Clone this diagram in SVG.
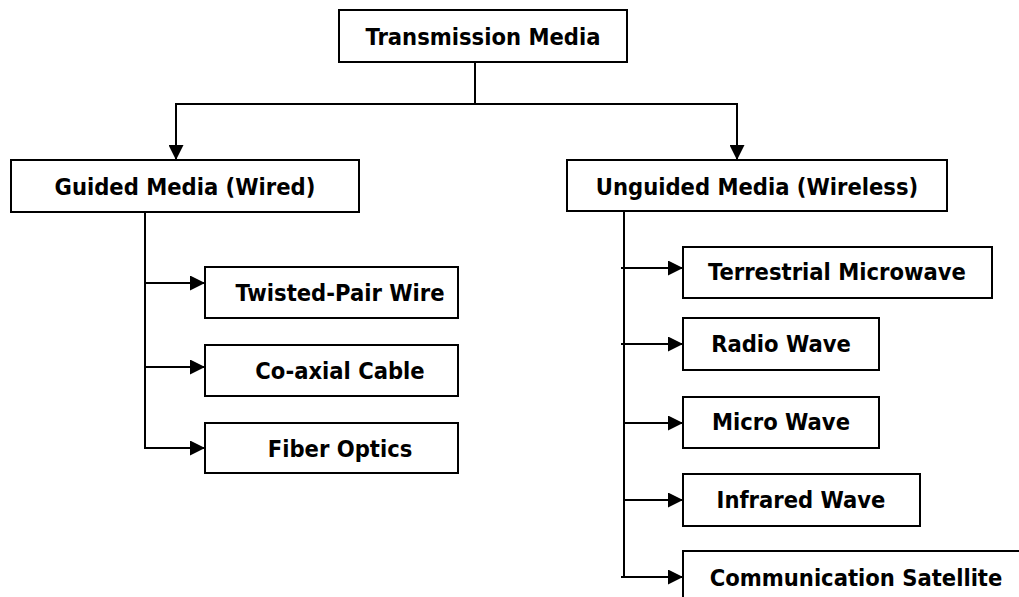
<svg xmlns="http://www.w3.org/2000/svg" width="1019" height="597" viewBox="0 0 1019 597">
  <style>
    .box { fill: #ffffff; stroke: #000000; stroke-width: 2; }
    .lbl { font-family: "DejaVu Sans Condensed", "DejaVu Sans", sans-serif; font-weight: bold; font-size: 23.5px; fill: #000000; text-anchor: middle; }
    .wire { fill: none; stroke: #000000; stroke-width: 2; }
    .arrow { marker-end: url(#head); }
  </style>
  <defs>
    <marker id="head" viewBox="0 0 16 16" refX="16" refY="8" markerWidth="16" markerHeight="15" markerUnits="userSpaceOnUse" orient="auto">
      <path d="M0,0 L16,8 L0,16 z" fill="#000000"/>
    </marker>
  </defs>
  <rect width="1019" height="597" fill="#ffffff"/>

  <!-- connectors -->
  <g id="connectors">
    <!-- root to the two categories -->
    <line class="wire" x1="475" y1="62" x2="475" y2="104"/>
    <line class="wire" x1="175" y1="104" x2="738" y2="104"/>
    <line class="wire arrow" x1="176" y1="104" x2="176" y2="160"/>
    <line class="wire arrow" x1="737" y1="104" x2="737" y2="160"/>
    <!-- guided media branch -->
    <line class="wire" x1="145" y1="212" x2="145" y2="449"/>
    <line class="wire arrow" x1="144" y1="283" x2="205" y2="283"/>
    <line class="wire arrow" x1="144" y1="367" x2="205" y2="367"/>
    <line class="wire arrow" x1="144" y1="448" x2="205" y2="448"/>
    <!-- unguided media branch -->
    <line class="wire" x1="624" y1="211" x2="624" y2="578"/>
    <line class="wire arrow" x1="621" y1="268" x2="683" y2="268"/>
    <line class="wire arrow" x1="621" y1="344" x2="683" y2="344"/>
    <line class="wire arrow" x1="623" y1="423" x2="683" y2="423"/>
    <line class="wire arrow" x1="623" y1="500" x2="683" y2="500"/>
    <line class="wire arrow" x1="621" y1="577" x2="683" y2="577"/>
  </g>

  <g id="transmission-media">
    <rect class="box" x="339" y="10" width="288" height="52"/>
    <text class="lbl" x="483" y="45">Transmission Media</text>
  </g>

  <g id="guided-media">
    <rect class="box" x="11" y="160" width="348" height="52"/>
    <text class="lbl" x="185" y="195">Guided Media (Wired)</text>
  </g>

  <g id="unguided-media">
    <rect class="box" x="567" y="160" width="380" height="51"/>
    <text class="lbl" x="757" y="195">Unguided Media (Wireless)</text>
  </g>

  <g id="twisted-pair">
    <rect class="box" x="205" y="267" width="253" height="51"/>
    <text class="lbl" x="340" y="301">Twisted-Pair Wire</text>
  </g>

  <g id="coaxial">
    <rect class="box" x="205" y="345" width="253" height="51"/>
    <text class="lbl" x="340" y="379">Co-axial Cable</text>
  </g>

  <g id="fiber-optics">
    <rect class="box" x="205" y="423" width="253" height="50"/>
    <text class="lbl" x="340" y="457">Fiber Optics</text>
  </g>

  <g id="terrestrial-microwave">
    <rect class="box" x="683" y="247" width="309" height="51"/>
    <text class="lbl" x="837" y="280">Terrestrial Microwave</text>
  </g>

  <g id="radio-wave">
    <rect class="box" x="683" y="318" width="196" height="52"/>
    <text class="lbl" x="781" y="352">Radio Wave</text>
  </g>

  <g id="micro-wave">
    <rect class="box" x="683" y="397" width="196" height="51"/>
    <text class="lbl" x="781" y="430">Micro Wave</text>
  </g>

  <g id="infrared-wave">
    <rect class="box" x="683" y="474" width="237" height="52"/>
    <text class="lbl" x="801" y="508">Infrared Wave</text>
  </g>

  <g id="communication-satellite">
    <rect class="box" x="683" y="551" width="348" height="52"/>
    <text class="lbl" x="856" y="586">Communication Satellite</text>
  </g>
</svg>
